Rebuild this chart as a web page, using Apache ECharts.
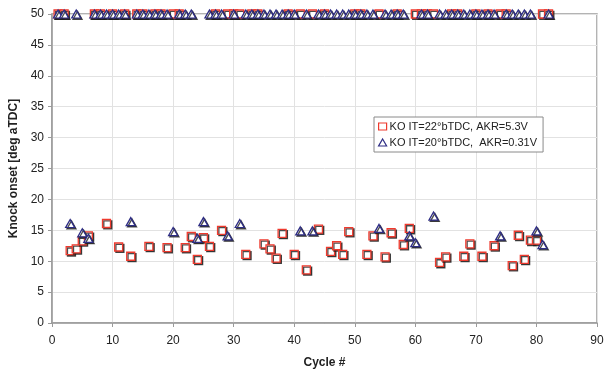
<!DOCTYPE html>
<html>
<head>
<meta charset="utf-8">
<script src="https://cdn.jsdelivr.net/npm/echarts@6/dist/echarts.min.js"></script>
<style>
html,body{margin:0;padding:0;background:#fff;}
#c{width:605px;height:369px;}
</style>
</head>
<body>
<div id="c"></div>
<script>
const cycles = [1,2,3,4,5,6,7,8,9,10,11,12,13,14,15,16,17,18,19,20,21,22,23,24,25,26,27,28,29,30,31,32,33,34,35,36,37,38,39,40,41,42,43,44,45,46,47,48,49,50,51,52,53,54,55,56,57,58,59,60,61,62,63,64,65,66,67,68,69,70,71,72,73,74,75,76,77,78,79,80,81,82];
const koIT22 = [50,50,11.7,12.0,13.3,14.1,50,50,16.1,50,12.3,50,10.8,50,50,12.4,50,50,12.2,50,50,12.2,14.0,10.3,13.8,12.4,50,15.0,50,50,50,11.1,50,50,12.8,12.0,10.5,14.5,50,11.1,50,8.6,50,15.2,50,11.6,12.5,11.1,14.8,50,50,11.1,14.1,50,10.7,14.6,50,12.7,15.3,50,50,50,50,9.8,10.7,50,50,10.8,12.8,50,10.8,50,12.5,50,50,9.3,14.2,10.3,13.4,13.4,50,50];
const koIT20 = [50,50,16.1,50,14.6,13.7,50,50,50,50,50,50,16.4,50,50,50,50,50,50,14.8,50,50,50,13.7,16.4,50,50,50,14.1,50,16.1,50,50,50,50,50,50,50,50,50,14.9,50,14.9,50,50,50,50,50,50,50,50,50,50,15.3,50,50,50,50,14.1,13.0,50,50,17.3,50,50,50,50,50,50,50,50,50,50,14.1,50,50,50,50,50,14.9,12.7,50];
const seriesNames = ['KO IT=22°bTDC, AKR=5.3V', 'KO IT=20°bTDC,  AKR=0.31V'];
const xTicks = {min:0, max:90, interval:10};
const yTicks = {min:0, max:50, interval:5};

const pairs = (ys) => cycles.map((c,i)=>[c, ys[i]]);
const font = 'Liberation Sans, Arial, sans-serif';
const chart = echarts.init(document.getElementById('c'), null, {renderer:'canvas'});
chart.setOption({
  animation:false,
  backgroundColor:'#fff',
  grid:{left:52, right:8, top:14, bottom:46, show:true, borderColor:'#9a9a9a', borderWidth:1.5, backgroundColor:'transparent', containLabel:false, outerBoundsMode:'none'},
  xAxis:{type:'value', min:xTicks.min, max:xTicks.max, interval:xTicks.interval,
    name:'Cycle #', nameLocation:'middle', nameGap:34,
    nameTextStyle:{fontFamily:font, fontSize:12, fontWeight:'bold', color:'#222'},
    axisLine:{lineStyle:{color:'#9a9a9a', width:1.5}},
    axisTick:{show:true, length:4, lineStyle:{color:'#9a9a9a'}},
    axisLabel:{fontFamily:font, fontSize:12, color:'#222', margin:12},
    splitLine:{show:true, lineStyle:{color:'#e2e2e2', width:1}}
  },
  yAxis:{type:'value', min:yTicks.min, max:yTicks.max, interval:yTicks.interval,
    name:'Knock onset [deg aTDC]', nameLocation:'middle', nameGap:28,
    nameTextStyle:{fontFamily:font, fontSize:12, fontWeight:'bold', color:'#222'},
    axisLine:{show:true, lineStyle:{color:'#9a9a9a', width:1.5}},
    axisTick:{show:true, length:4, lineStyle:{color:'#9a9a9a'}},
    axisLabel:{fontFamily:font, fontSize:12, color:'#222', margin:8},
    splitLine:{show:true, lineStyle:{color:'#e2e2e2', width:1}}
  },
  legend:{
    orient:'vertical', left:374, top:117, padding:[4,6,4,4], itemGap:5,
    itemWidth:8, itemHeight:7,
    borderColor:'#8a8a8a', borderWidth:1, backgroundColor:'#fff',
    textStyle:{fontFamily:font, fontSize:11, color:'#222', padding:[0,0,0,-2]},
    itemStyle:{shadowColor:'rgba(0,0,0,0)', shadowOffsetX:0, shadowOffsetY:0, borderWidth:1.2},
    data:seriesNames
  },
  series:[
    {name:seriesNames[0], type:'scatter', clip:false, symbol:'rect', symbolSize:8,
     itemStyle:{color:'#ffffff', borderColor:'#ee3a2e', borderWidth:1.3, opacity:1,
       shadowColor:'rgba(30,30,30,0.8)', shadowOffsetX:1.3, shadowOffsetY:1.3, shadowBlur:0},
     data:pairs(koIT22)},
    {name:seriesNames[1], type:'scatter', clip:false, symbol:'triangle', symbolSize:[9,8],
     itemStyle:{color:'#ffffff', borderColor:'#2e2d85', borderWidth:1.3, opacity:1,
       shadowColor:'rgba(30,30,30,0.8)', shadowOffsetX:1.3, shadowOffsetY:1.3, shadowBlur:0},
     data:pairs(koIT20)}
  ]
});
</script>
</body>
</html>
